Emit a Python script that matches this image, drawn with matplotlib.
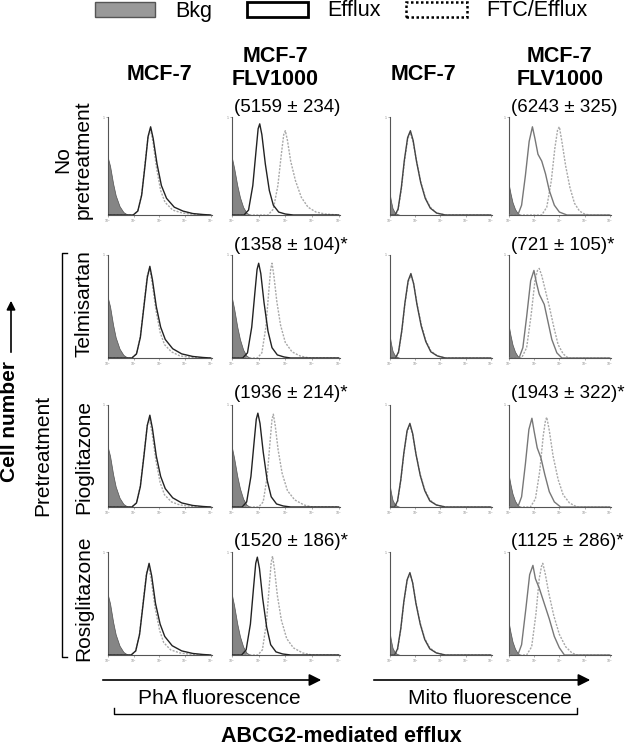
import numpy as np
import matplotlib
matplotlib.use('Agg')
import matplotlib.pyplot as plt
from matplotlib.patches import Rectangle, FancyArrowPatch
from matplotlib.lines import Line2D

plt.rcParams['font.family'] = ['Liberation Sans', 'DejaVu Sans']

W, H = 629, 746

# Histograms: (log10 fluorescence, fraction of panel height)
# Columna 1: PhA, MCF-7
r1c1_eff = [(0, 0), (0.98, 0), (1.16, .04), (1.31, .2), (1.44, .5), (1.56, .8), (1.66, .9), (1.76, .78), (1.91, .52), (2.08, .3), (2.28, .17), (2.58, .08), (2.92, .04), (3.3, .015), (3.7, .005), (4, 0)]
r1c1_ftc = [(0, 0), (0.98, 0), (1.16, .04), (1.31, .21), (1.44, .52), (1.56, .8), (1.65, .88), (1.75, .75), (1.89, .48), (2.05, .25), (2.22, .13), (2.52, .05), (2.9, .02), (3.4, .005), (4, 0)]
r2c1_eff = [(0, 0), (0.93, 0), (1.11, .04), (1.26, .2), (1.4, .5), (1.53, .78), (1.63, .89), (1.73, .76), (1.88, .5), (2.05, .3), (2.23, .18), (2.52, .09), (2.87, .04), (3.3, .015), (3.7, .005), (4, 0)]
r2c1_ftc = [(0, 0), (0.93, 0), (1.11, .04), (1.26, .21), (1.4, .52), (1.53, .8), (1.62, .87), (1.72, .73), (1.87, .46), (2.03, .25), (2.2, .13), (2.47, .06), (2.8, .02), (3.3, .005), (4, 0)]
r3c1_eff = [(0, 0), (0.93, 0), (1.11, .04), (1.26, .2), (1.4, .5), (1.53, .8), (1.63, .9), (1.73, .77), (1.88, .5), (2.05, .3), (2.23, .18), (2.52, .09), (2.87, .04), (3.3, .015), (3.7, .005), (4, 0)]
r3c1_ftc = [(0, 0), (0.93, 0), (1.11, .04), (1.26, .21), (1.4, .52), (1.53, .8), (1.62, .86), (1.72, .72), (1.87, .45), (2.03, .24), (2.2, .12), (2.47, .05), (2.8, .02), (3.3, .005), (4, 0)]
r4c1_eff = [(0, 0), (0.9, 0), (1.08, .04), (1.23, .2), (1.37, .5), (1.5, .78), (1.6, .89), (1.7, .77), (1.85, .5), (2.03, .3), (2.21, .18), (2.5, .09), (2.87, .04), (3.3, .015), (3.7, .005), (4, 0)]
r4c1_ftc = [(0, 0), (0.9, 0), (1.08, .04), (1.23, .21), (1.37, .52), (1.5, .8), (1.59, .86), (1.69, .72), (1.84, .45), (2.01, .24), (2.17, .12), (2.44, .05), (2.8, .02), (3.3, .005), (4, 0)]

# Columna 2: PhA, MCF-7 FLV1000
r1c2_eff = [(0, 0), (0.45, 0), (0.62, .05), (0.78, .3), (0.9, .65), (0.98, .88), (1.04, .93), (1.12, .82), (1.25, .52), (1.4, .25), (1.55, .1), (1.75, .03), (2.0, .01), (2.3, 0), (4, 0)]
r1c2_ftc = [(0, 0), (1.35, 0), (1.55, .06), (1.72, .3), (1.85, .62), (1.94, .82), (2.0, .86), (2.08, .76), (2.2, .55), (2.38, .35), (2.6, .18), (2.85, .08), (3.15, .03), (3.5, .01), (4, 0)]
r2c2_eff = [(0, 0), (0.4, 0), (0.58, .05), (0.74, .3), (0.86, .64), (0.94, .86), (1.0, .92), (1.08, .82), (1.2, .54), (1.35, .26), (1.5, .1), (1.7, .03), (1.95, .01), (2.2, 0), (4, 0)]
r2c2_ftc = [(0, 0), (0.95, 0), (1.12, .05), (1.27, .3), (1.38, .65), (1.45, .86), (1.5, .92), (1.57, .8), (1.68, .55), (1.82, .32), (2.0, .15), (2.25, .06), (2.55, .02), (2.9, 0), (4, 0)]
r3c2_eff = [(0, 0), (0.38, 0), (0.55, .05), (0.71, .3), (0.83, .64), (0.91, .86), (0.97, .92), (1.05, .82), (1.17, .54), (1.32, .26), (1.47, .1), (1.67, .03), (1.92, .01), (2.2, 0), (4, 0)]
r3c2_ftc = [(0, 0), (1.0, 0), (1.17, .05), (1.32, .3), (1.43, .65), (1.5, .86), (1.55, .91), (1.62, .8), (1.73, .56), (1.88, .33), (2.08, .16), (2.35, .07), (2.7, .02), (3.0, 0), (4, 0)]
r4c2_eff = [(0, 0), (0.36, 0), (0.53, .05), (0.69, .3), (0.81, .66), (0.89, .89), (0.95, .95), (1.03, .84), (1.15, .55), (1.3, .27), (1.45, .1), (1.65, .03), (1.9, .01), (2.2, 0), (4, 0)]
r4c2_ftc = [(0, 0), (0.97, 0), (1.14, .05), (1.29, .31), (1.4, .68), (1.47, .9), (1.52, .96), (1.59, .84), (1.7, .58), (1.85, .34), (2.05, .16), (2.3, .07), (2.65, .02), (3.0, 0), (4, 0)]

# Columna 3: Mito, MCF-7
r1c3_eff = [(0, 0), (0.2, 0), (0.32, .06), (0.45, .28), (0.57, .56), (0.7, .79), (0.81, .86), (0.92, .76), (1.05, .55), (1.22, .33), (1.4, .17), (1.6, .07), (1.85, .02), (2.2, 0), (4, 0)]
r1c3_ftc = [(0, 0), (0.2, 0), (0.32, .05), (0.45, .26), (0.57, .54), (0.7, .77), (0.8, .84), (0.91, .75), (1.05, .56), (1.22, .34), (1.4, .18), (1.6, .08), (1.85, .02), (2.2, 0), (4, 0)]
r2c3_eff = [(0, 0), (0.22, 0), (0.34, .06), (0.47, .27), (0.59, .53), (0.72, .75), (0.83, .82), (0.94, .72), (1.07, .52), (1.24, .31), (1.42, .16), (1.62, .06), (1.88, .02), (2.2, 0), (4, 0)]
r2c3_ftc = [(0, 0), (0.22, 0), (0.34, .05), (0.47, .26), (0.59, .52), (0.72, .74), (0.83, .8), (0.94, .72), (1.07, .53), (1.24, .33), (1.42, .17), (1.62, .07), (1.88, .02), (2.2, 0), (4, 0)]
r3c3_eff = [(0, 0), (0.18, 0), (0.3, .06), (0.43, .27), (0.55, .53), (0.68, .75), (0.79, .82), (0.9, .72), (1.03, .52), (1.2, .31), (1.38, .16), (1.58, .06), (1.84, .02), (2.2, 0), (4, 0)]
r3c3_ftc = [(0, 0), (0.18, 0), (0.3, .05), (0.43, .26), (0.55, .52), (0.68, .74), (0.79, .8), (0.9, .71), (1.03, .52), (1.2, .32), (1.38, .17), (1.58, .07), (1.84, .02), (2.2, 0), (4, 0)]
r4c3_eff = [(0, 0), (0.18, 0), (0.3, .06), (0.43, .26), (0.55, .52), (0.68, .73), (0.79, .8), (0.9, .7), (1.03, .5), (1.2, .3), (1.38, .15), (1.58, .06), (1.84, .02), (2.2, 0), (4, 0)]
r4c3_ftc = [(0, 0), (0.18, 0), (0.3, .05), (0.43, .25), (0.55, .51), (0.68, .72), (0.79, .79), (0.9, .7), (1.03, .51), (1.2, .31), (1.38, .16), (1.58, .07), (1.84, .02), (2.2, 0), (4, 0)]

# Columna 4: Mito, MCF-7 FLV1000
r1c4_eff = [(0, 0), (0.35, 0), (0.5, .1), (0.65, .4), (0.8, .75), (0.93, .9), (1.03, .78), (1.15, .62), (1.3, .55), (1.45, .42), (1.6, .25), (1.8, .1), (2.0, .03), (2.3, 0), (4, 0)]
r1c4_ftc = [(0, 0), (1.3, 0), (1.5, .08), (1.68, .35), (1.82, .68), (1.93, .87), (2.0, .9), (2.1, .75), (2.25, .5), (2.42, .28), (2.6, .12), (2.8, .04), (3.0, .01), (3.2, 0), (4, 0)]
r2c4_eff = [(0, 0), (0.4, 0), (0.55, .1), (0.7, .4), (0.86, .75), (0.99, .85), (1.08, .74), (1.2, .62), (1.4, .52), (1.55, .35), (1.7, .18), (1.9, .05), (2.1, 0), (4, 0)]
r2c4_ftc = [(0, 0), (0.5, 0), (0.7, .1), (0.88, .42), (1.03, .75), (1.13, .85), (1.2, .87), (1.3, .8), (1.45, .65), (1.6, .5), (1.78, .3), (1.95, .13), (2.15, .04), (2.35, 0), (4, 0)]
r3c4_eff = [(0, 0), (0.35, 0), (0.5, .1), (0.65, .42), (0.79, .76), (0.91, .87), (1.0, .74), (1.12, .58), (1.27, .48), (1.42, .32), (1.6, .15), (1.8, .05), (2.05, 0), (4, 0)]
r3c4_ftc = [(0, 0), (0.85, 0), (1.05, .08), (1.22, .35), (1.36, .7), (1.45, .85), (1.5, .88), (1.6, .75), (1.75, .5), (1.95, .27), (2.15, .12), (2.4, .04), (2.7, 0), (4, 0)]
r4c4_eff = [(0, 0), (0.35, 0), (0.5, .1), (0.67, .45), (0.82, .78), (0.95, .87), (1.05, .74), (1.2, .65), (1.4, .5), (1.6, .35), (1.8, .18), (2.0, .07), (2.2, 0), (4, 0)]
r4c4_ftc = [(0, 0), (0.7, 0), (0.9, .08), (1.07, .4), (1.2, .74), (1.29, .86), (1.34, .89), (1.43, .8), (1.58, .6), (1.78, .38), (2.0, .2), (2.25, .08), (2.5, .02), (2.7, 0), (4, 0)]

# Fondo (Bkg) por columna
bkg_c1 = [(0, .58), (0.08, .5), (0.2, .32), (0.3, .2), (0.45, .09), (0.6, .03), (0.75, .005), (0.9, 0)]
bkg_c2 = [(0, .58), (0.08, .48), (0.2, .3), (0.3, .18), (0.42, .08), (0.55, .02), (0.7, 0)]
bkg_c3 = [(0, .2), (0.04, .14), (0.1, .07), (0.18, .03), (0.28, .01), (0.4, 0)]
bkg_c4 = [(0, .3), (0.06, .22), (0.14, .13), (0.24, .06), (0.34, .02), (0.45, 0)]

col_headers = ['MCF-7', 'MCF-7\nFLV1000', 'MCF-7', 'MCF-7\nFLV1000']
row_labels = ['No\npretreatment', 'Telmisartan', 'Pioglitazone', 'Rosiglitazone']
pha_values = ['(5159 ± 234)', '(1358 ± 104)*', '(1936 ± 214)*', '(1520 ± 186)*']
mito_values = ['(6243 ± 325)', '(721 ± 105)*', '(1943 ± 322)*', '(1125 ± 286)*']
x_tick_labels = ['10$^0$', '10$^1$', '10$^2$', '10$^3$', '10$^4$']

panels = [
    [(r1c1_eff, r1c1_ftc), (r1c2_eff, r1c2_ftc), (r1c3_eff, r1c3_ftc), (r1c4_eff, r1c4_ftc)],
    [(r2c1_eff, r2c1_ftc), (r2c2_eff, r2c2_ftc), (r2c3_eff, r2c3_ftc), (r2c4_eff, r2c4_ftc)],
    [(r3c1_eff, r3c1_ftc), (r3c2_eff, r3c2_ftc), (r3c3_eff, r3c3_ftc), (r3c4_eff, r3c4_ftc)],
    [(r4c1_eff, r4c1_ftc), (r4c2_eff, r4c2_ftc), (r4c3_eff, r4c3_ftc), (r4c4_eff, r4c4_ftc)],
]
bkgs = [bkg_c1, bkg_c2, bkg_c3, bkg_c4]

# posiciones en pixeles
col_x = [(108, 212), (232, 340), (390, 492), (509, 611)]
row_y = [(117, 215), (255, 358), (405, 507), (552, 655)]
eff_colors = ['#222222', '#222222', '#444444', '#777777']


def fx(px):
    return px / W


def fy(py):
    return 1 - py / H


fig = plt.figure(figsize=(W / 100, H / 100), dpi=100)

for i, (y0, y1) in enumerate(row_y):
    for j, (x0, x1) in enumerate(col_x):
        ax = fig.add_axes([fx(x0), fy(y1), (x1 - x0) / W, (y1 - y0) / H])
        eff, ftc = panels[i][j]
        bx, by = zip(*bkgs[j])
        ax.fill_between(bx, by, color='#858585', edgecolor='#505050', lw=0.5, zorder=1)
        x, y = zip(*ftc)
        ax.plot(x, y, color='#a8a8a8', lw=1.0, ls=(0, (1.5, 1)), zorder=2)
        x, y = zip(*eff)
        ax.plot(x, y, color=eff_colors[j], lw=1.0, zorder=3)
        ax.set_xlim(0, 4.05)
        ax.set_ylim(0, 1.0)
        for s in ['top', 'right']:
            ax.spines[s].set_visible(False)
        for s in ['left', 'bottom']:
            ax.spines[s].set_color('#555555')
            ax.spines[s].set_linewidth(0.8)
        ax.set_xticks(range(5))
        ax.set_xticklabels(x_tick_labels, fontsize=2.5, color='#888888')
        ax.set_yticks([1])
        ax.set_yticklabels(['1'], fontsize=2.5, color='#888888')
        ax.tick_params(length=1.5, width=0.5, color='#888888', pad=0.5)
        ax.patch.set_alpha(0)

# encabezados de columna
header_pos = [(160, 75), (275, 68), (423, 75), (560, 68)]
for txt, (px, py) in zip(col_headers, header_pos):
    fig.text(fx(px), fy(py), txt, ha='center', va='center', fontsize=15.5,
             fontweight='bold', linespacing=1.1)

# valores
ann_y = [108, 246, 393, 541]
for i in range(4):
    fig.text(fx(234), fy(ann_y[i]), pha_values[i], ha='left', va='center', fontsize=13.5)
    fig.text(fx(511), fy(ann_y[i]), mito_values[i], ha='left', va='center', fontsize=13.5)

# etiquetas de fila
fig.text(fx(73), fy(160), row_labels[0], ha='center', va='center', rotation=90,
         fontsize=15, linespacing=1.1)
label_y = [304, 457, 598]
for txt, py in zip(row_labels[1:], label_y):
    fig.text(fx(84), fy(py), txt, ha='center', va='center', rotation=90, fontsize=15)

fig.text(fx(43), fy(455), 'Pretreatment', ha='center', va='center', rotation=90, fontsize=15)
fig.text(fx(10), fy(421), 'Cell number', ha='center', va='center', rotation=90,
         fontsize=15, fontweight='bold')
fig.add_artist(FancyArrowPatch((fx(11), fy(355)), (fx(11), fy(298)), arrowstyle='-|>',
                               mutation_scale=13, lw=1.2, color='black',
                               transform=fig.transFigure))

# corchete vertical
fig.add_artist(Line2D([fx(67), fx(62), fx(62), fx(67)], [fy(253), fy(253), fy(657), fy(657)],
                      transform=fig.transFigure, color='black', lw=1.0))

# flechas inferiores
fig.add_artist(FancyArrowPatch((fx(100), fy(680)), (fx(324), fy(680)), arrowstyle='-|>',
                               mutation_scale=18, lw=1.2, color='black',
                               transform=fig.transFigure))
fig.add_artist(FancyArrowPatch((fx(371), fy(680)), (fx(593), fy(680)), arrowstyle='-|>',
                               mutation_scale=18, lw=1.2, color='black',
                               transform=fig.transFigure))
fig.text(fx(219), fy(698), 'PhA fluorescence', ha='center', va='center', fontsize=15)
fig.text(fx(490), fy(698), 'Mito fluorescence', ha='center', va='center', fontsize=15)

fig.add_artist(Line2D([fx(114), fx(114), fx(577), fx(577)], [fy(708), fy(714), fy(714), fy(708)],
                      transform=fig.transFigure, color='black', lw=1.0))
fig.text(fx(341), fy(736), 'ABCG2-mediated efflux', ha='center', va='center',
         fontsize=15.5, fontweight='bold')

# leyenda
fig.add_artist(Rectangle((fx(95), fy(17)), 60 / W, 15 / H, facecolor='#999999',
                         edgecolor='#555555', lw=1.0, transform=fig.transFigure))
fig.text(fx(175), fy(11), 'Bkg', ha='left', va='center', fontsize=15.5)
fig.add_artist(Rectangle((fx(247), fy(17)), 61 / W, 15 / H, facecolor='white',
                         edgecolor='black', lw=2.0, transform=fig.transFigure))
fig.text(fx(327), fy(11), 'Efflux', ha='left', va='center', fontsize=15.5)
fig.add_artist(Rectangle((fx(406), fy(17)), 61 / W, 15 / H, facecolor='white',
                         edgecolor='black', lw=1.8, ls=(0, (1, 1)), transform=fig.transFigure))
fig.text(fx(486), fy(11), 'FTC/Efflux', ha='left', va='center', fontsize=15.5)

fig.savefig('out.png', dpi=100)
